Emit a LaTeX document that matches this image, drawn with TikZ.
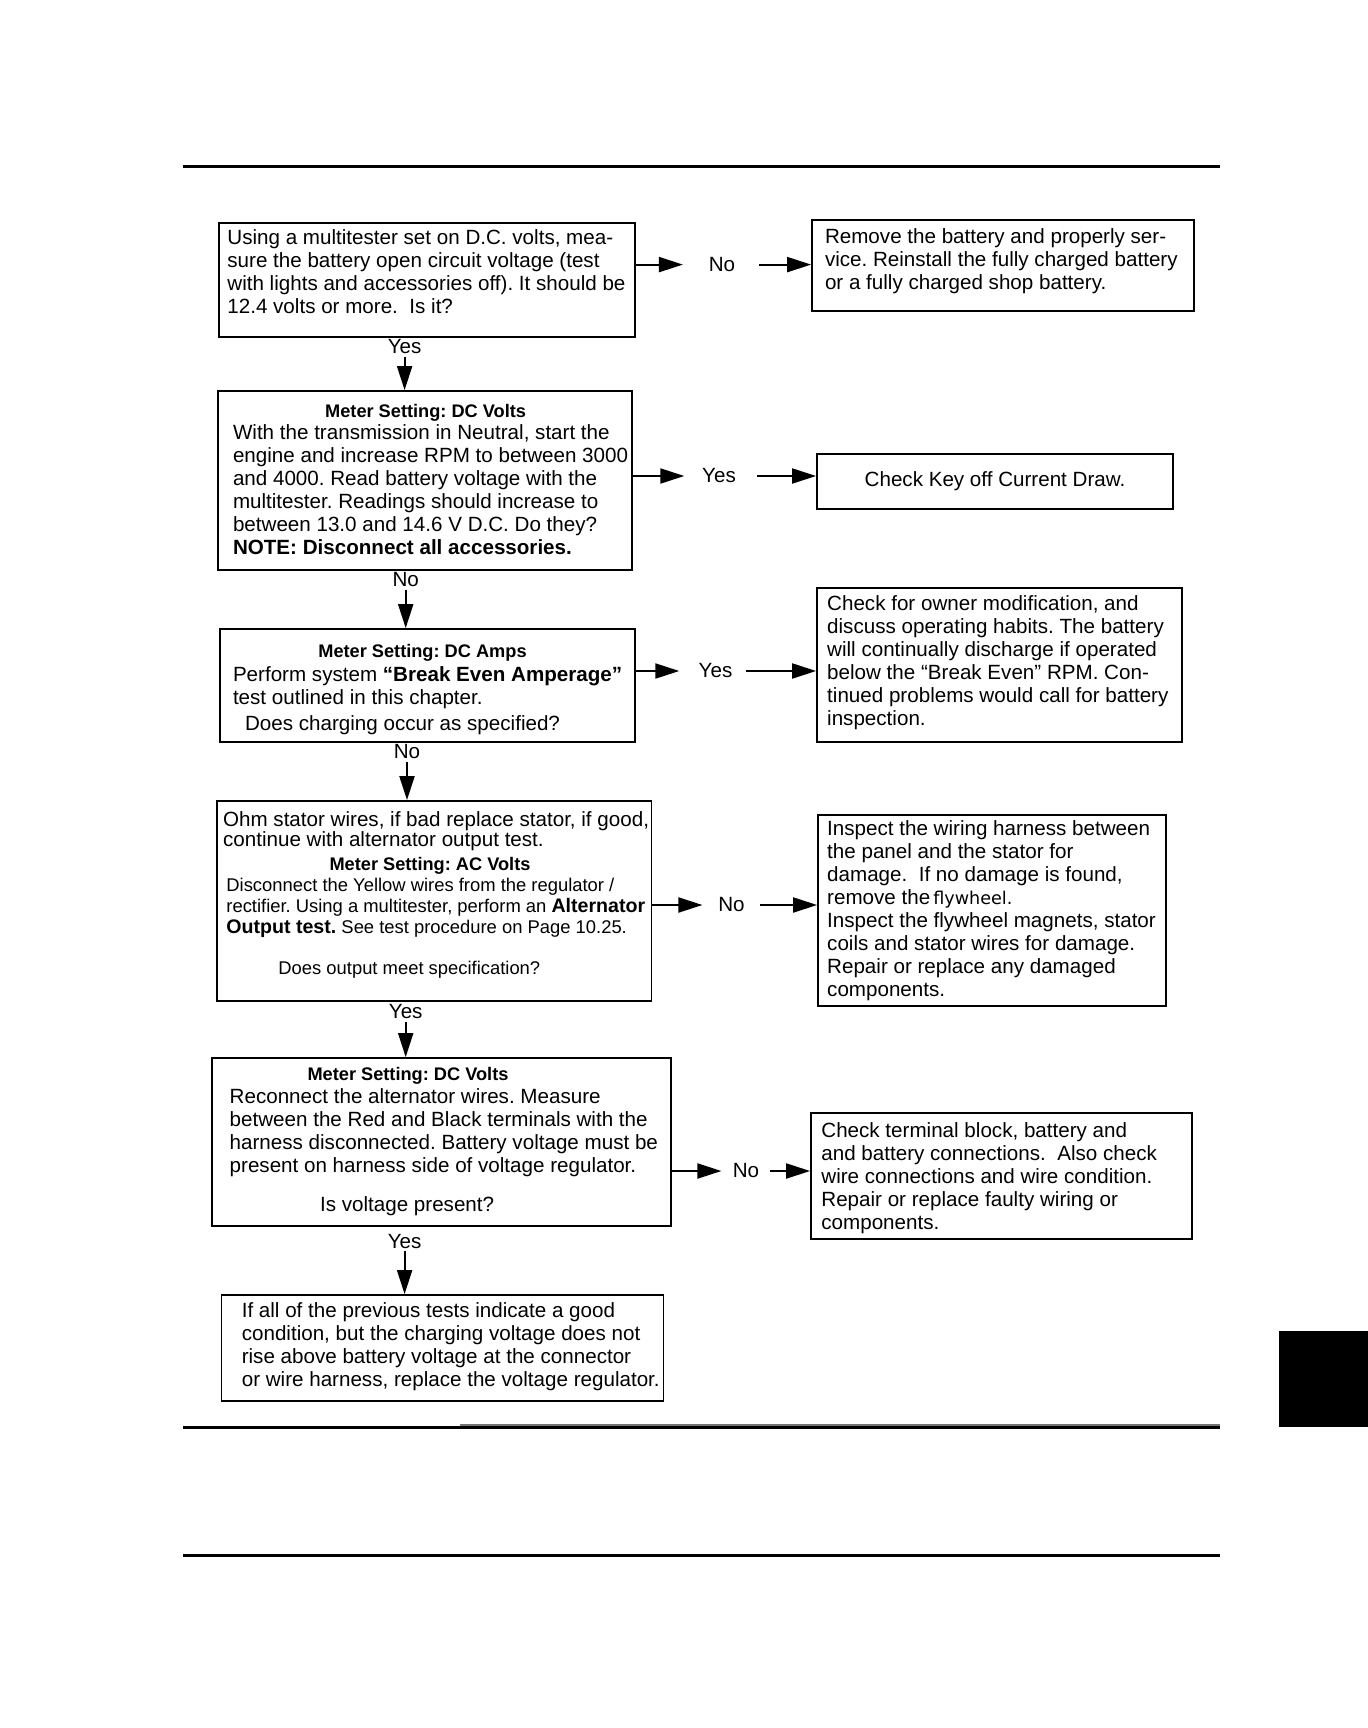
\documentclass[tikz,border=0pt]{standalone}
\usepackage{fontspec}
\setmainfont{Liberation Sans}
\newfontfamily\flyfont{DejaVu Sans}
\usetikzlibrary{arrows.meta,calc}
\begin{document}
\frenchspacing
\begin{tikzpicture}[x=0.5pt,y=-0.5pt,
  box/.style={draw, line width=0.9pt, inner sep=0pt},
  txt/.style={inner sep=0pt, anchor=north west, align=left, font=\fontsize{10.3}{11.5}\selectfont},
  smalltxt/.style={inner sep=0pt, anchor=north west, align=left, font=\fontsize{9.2}{10.5}\selectfont},
  hdr/.style={inner sep=0pt, font=\fontsize{9.1}{11}\selectfont\bfseries},
  lbl/.style={inner sep=0pt, font=\fontsize{10.3}{11.5}\selectfont},
  arr/.style={line width=1pt, -{Triangle[length=12pt,width=7.5pt]}},
  rule/.style={line width=1.35pt},
]
\useasboundingbox (0,0) rectangle (1368,1728);
% page rules
\draw[rule] (183,166.5) coordinate (tl) -- (1220,166.5) coordinate (tr);
\draw[line width=1.6pt] (183,1427.5) coordinate (bl) -- (1220,1427.5) coordinate (br);
\draw[line width=0.8pt, black!55] (460,1425) coordinate (gl) -- (1220,1425) coordinate (gr);
\draw[rule] (183,1555.5) coordinate (fl) -- (1220,1555.5) coordinate (fr);
\fill[black] (1279,1331) rectangle (1368,1427);

% boxes
\node[box, minimum width=208pt, minimum height=57pt] (b1) at (427,280) {};
\node[box, minimum width=191pt, minimum height=45.5pt] (r1) at (1003,265.5) {};
\node[box, minimum width=207pt, minimum height=89.5pt] (b2) at (425,480.5) {};
\node[box, minimum width=178pt, minimum height=27.5pt, font=\fontsize{10.3}{11.5}\selectfont] (r2) at (995,481.5) {Check Key off Current Draw.};
\node[box, minimum width=207.5pt, minimum height=56.5pt] (b3) at (427.5,685.5) {};
\node[box, minimum width=182.5pt, minimum height=77pt] (r3) at (999.5,665) {};
\node[box, minimum width=217.25pt, minimum height=100pt] (b4) at (434.25,901) {};
\node[box, minimum width=174pt, minimum height=95.5pt] (r4) at (992,910.5) {};
\node[box, minimum width=229.5pt, minimum height=84pt] (b5) at (441.5,1142) {};
\node[box, minimum width=190.5pt, minimum height=63pt] (r5) at (1001.5,1176) {};
\node[box, minimum width=221pt, minimum height=53pt] (b6) at (442.5,1348) {};

% texts
\node[txt] (b1t) at (227,229) {Using a multitester set on D.C. volts, mea-\\sure the battery open circuit voltage (test\\with lights and accessories off). It should be\\12.4 volts or more.\ \ Is it?};
\node[txt] (r1t) at (824.6,228) {Remove the battery and properly ser-\\vice. Reinstall the fully charged battery\\or a fully charged shop battery.};
\node[hdr] (b2h) at (425.6,412.5) {Meter Setting: DC Volts};
\node[txt] (b2t) at (232.6,424) {With the transmission in Neutral, start the\\engine and increase RPM to between 3000\\and 4000. Read battery voltage with the\\multitester. Readings should increase to\\between 13.0 and 14.6 V D.C. Do they?\\\textbf{NOTE: Disconnect all accessories.}};
\node[hdr] (b3h) at (422.5,652.5) {Meter Setting: DC Amps};
\node[txt] (b3t) at (232.6,666) {Perform system \textbf{“Break Even Amperage”}\\test outlined in this chapter.};
\node[txt] (b3q) at (244.7,715) {Does charging occur as specified?};
\node[txt] (r3t) at (826.8,595) {Check for owner modification, and\\discuss operating habits. The battery\\will continually discharge if operated\\below the “Break Even” RPM. Con-\\tinued problems would call for battery\\inspection.};
\node[txt, font=\fontsize{10.3}{10}\selectfont] (b4t) at (222.7,811) {Ohm stator wires, if bad replace stator, if good,\\ continue with alternator output test.};
\node[hdr] (b4h) at (430,865.5) {Meter Setting: AC Volts};
\node[smalltxt] (b4s) at (226,878) {Disconnect the Yellow wires from the regulator /\\rectifier. Using a multitester, perform an \textbf{\fontsize{9.8}{10.5}\selectfont Alternator}\\\textbf{\fontsize{9.8}{10.5}\selectfont Output test.} See test procedure on Page 10.25.};
\node[smalltxt] (b4q) at (278,961) {Does output meet specification?};
\node[txt] (r4t) at (826.8,820) {Inspect the wiring harness between\\the panel and the stator for\\damage.\ \ If no damage is found,\\remove the\hspace{1.5pt}{\flyfont\fontsize{8.8}{11.5}\selectfont flywheel.}\\Inspect the flywheel magnets, stator\\coils and stator wires for damage.\\Repair or replace any damaged\\components.};
\node[hdr] (b5h) at (408,1075.5) {Meter Setting: DC Volts};
\node[txt] (b5t) at (229.3,1088) {Reconnect the alternator wires. Measure\\between the Red and Black terminals with the\\harness disconnected. Battery voltage must be\\present on harness side of voltage regulator.};
\node[txt] (b5q) at (319.7,1196) {Is voltage present?};
\node[txt] (r5t) at (821,1122) {Check terminal block, battery and\\and battery connections.\ \ Also check\\wire connections and wire condition.\\Repair or replace faulty wiring or\\components.};
\node[txt] (b6t) at (241.4,1302) {If all of the previous tests indicate a good\\condition, but the charging voltage does not\\rise above battery voltage at the connector\\or wire harness, replace the voltage regulator.};

% labels
\node[lbl] (n1) at (722,264.6) {No};
\node[lbl] (n2) at (719,476) {Yes};
\node[lbl] (n3) at (715.5,671) {Yes};
\node[lbl] (n4) at (731.5,905) {No};
\node[lbl] (n5) at (746,1171) {No};
\node[lbl] (v1) at (404.6,347) {Yes};
\node[lbl] (v2) at (405.7,580) {No};
\node[lbl] (v3) at (407,752) {No};
\node[lbl] (v4) at (405.7,1012) {Yes};
\node[lbl] (v5) at (404.6,1241) {Yes};

% horizontal connectors
\draw[arr] (b1.east |- n1) -- ([xshift=-12.75pt]n1.west);
\draw[arr] ([xshift=11.5pt]n1.east) -- (r1.west |- n1);
\draw[arr] (b2.east |- n2) -- ([xshift=-8.75pt]n2.west);
\draw[arr] ([xshift=10.5pt]n2.east) -- (r2.west |- n2);
\draw[arr] (b3.east |- n3) -- ([xshift=-9.5pt]n3.west);
\draw[arr] ([xshift=6.5pt]n3.east) -- (r3.west |- n3);
\draw[arr] (b4.east |- n4) -- ([xshift=-7.75pt]n4.west);
\draw[arr] ([xshift=7.5pt]n4.east) -- (r4.west |- n4);
\draw[arr] (b5.east |- n5) -- ([xshift=-5.5pt]n5.west);
\draw[arr] ([xshift=5.25pt]n5.east) -- (r5.west |- n5);

% vertical connectors
\draw[arr] ([yshift=-1pt]v1.south) -- (v1.south |- b2.north);
\draw[arr] ([yshift=-1pt]v2.south) -- (v2.south |- b3.north);
\draw[arr] ([yshift=-1pt]v3.south) -- (v3.south |- b4.north);
\draw[arr] ([yshift=-1pt]v4.south) -- (v4.south |- b5.north);
\draw[arr] ([yshift=-1pt]v5.south) -- (v5.south |- b6.north);
\end{tikzpicture}
\end{document}
